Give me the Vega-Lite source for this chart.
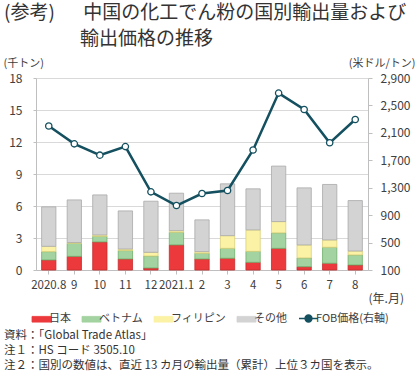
{
  "$schema": "https://vega.github.io/schema/vega-lite/v6.json",
  "autosize": {"type": "pad"},
  "padding": {"left": 3, "top": 4, "right": 0, "bottom": 0},
  "background": "white",
  "config": {
    "font": "Noto Sans CJK JP",
    "view": {"stroke": null},
    "axis": {
      "labelFontSize": 12,
      "labelColor": "#404040",
      "titleFontWeight": "normal",
      "titleColor": "#404040",
      "domainColor": "#bfbfbf",
      "tickColor": "#bfbfbf",
      "gridColor": "#d9d9d9"
    }
  },
  "title": {
    "text": ["(参考)\u2003\u2002中国の化工でん粉の国別輸出量および", "\u200b\u3000\u3000\u3000\u3000輸出価格の推移"],
    "anchor": "start",
    "frame": "group",
    "orient": "top",
    "dx": -32,
    "offset": 8,
    "fontSize": 19,
    "fontWeight": "normal",
    "color": "#333333",
    "lineHeight": 26
  },
  "datasets": {
    "vol": [
      {"month": "2020.8", "country": "日本", "value": 0.94},
      {"month": "2020.8", "country": "ベトナム", "value": 0.78},
      {"month": "2020.8", "country": "フィリピン", "value": 0.50},
      {"month": "2020.8", "country": "その他", "value": 3.70},
      {"month": "9", "country": "日本", "value": 1.28},
      {"month": "9", "country": "ベトナム", "value": 1.22},
      {"month": "9", "country": "フィリピン", "value": 0.07},
      {"month": "9", "country": "その他", "value": 4.00},
      {"month": "10", "country": "日本", "value": 2.63},
      {"month": "10", "country": "ベトナム", "value": 0.53},
      {"month": "10", "country": "フィリピン", "value": 0.13},
      {"month": "10", "country": "その他", "value": 3.75},
      {"month": "11", "country": "日本", "value": 1.03},
      {"month": "11", "country": "ベトナム", "value": 0.79},
      {"month": "11", "country": "フィリピン", "value": 0.15},
      {"month": "11", "country": "その他", "value": 3.57},
      {"month": "12", "country": "日本", "value": 0.19},
      {"month": "12", "country": "ベトナム", "value": 1.12},
      {"month": "12", "country": "フィリピン", "value": 0.35},
      {"month": "12", "country": "その他", "value": 4.79},
      {"month": "2021.1", "country": "日本", "value": 2.35},
      {"month": "2021.1", "country": "ベトナム", "value": 1.19},
      {"month": "2021.1", "country": "フィリピン", "value": 0.15},
      {"month": "2021.1", "country": "その他", "value": 3.51},
      {"month": "2", "country": "日本", "value": 1.03},
      {"month": "2", "country": "ベトナム", "value": 0.54},
      {"month": "2", "country": "フィリピン", "value": 0.15},
      {"month": "2", "country": "その他", "value": 2.98},
      {"month": "3", "country": "日本", "value": 1.10},
      {"month": "3", "country": "ベトナム", "value": 0.93},
      {"month": "3", "country": "フィリピン", "value": 1.19},
      {"month": "3", "country": "その他", "value": 4.86},
      {"month": "4", "country": "日本", "value": 0.72},
      {"month": "4", "country": "ベトナム", "value": 1.03},
      {"month": "4", "country": "フィリピン", "value": 2.01},
      {"month": "4", "country": "その他", "value": 3.85},
      {"month": "5", "country": "日本", "value": 2.03},
      {"month": "5", "country": "ベトナム", "value": 1.45},
      {"month": "5", "country": "フィリピン", "value": 1.06},
      {"month": "5", "country": "その他", "value": 5.20},
      {"month": "6", "country": "日本", "value": 0.31},
      {"month": "6", "country": "ベトナム", "value": 0.82},
      {"month": "6", "country": "フィリピン", "value": 1.22},
      {"month": "6", "country": "その他", "value": 5.35},
      {"month": "7", "country": "日本", "value": 0.63},
      {"month": "7", "country": "ベトナム", "value": 1.50},
      {"month": "7", "country": "フィリピン", "value": 0.69},
      {"month": "7", "country": "その他", "value": 5.20},
      {"month": "8", "country": "日本", "value": 0.47},
      {"month": "8", "country": "ベトナム", "value": 0.94},
      {"month": "8", "country": "フィリピン", "value": 0.37},
      {"month": "8", "country": "その他", "value": 4.73}
    ],
    "price": [
      {"month": "2020.8", "series": "FOB価格(右軸)", "price": 2200},
      {"month": "9", "series": "FOB価格(右軸)", "price": 1940},
      {"month": "10", "series": "FOB価格(右軸)", "price": 1775},
      {"month": "11", "series": "FOB価格(右軸)", "price": 1900},
      {"month": "12", "series": "FOB価格(右軸)", "price": 1240},
      {"month": "2021.1", "series": "FOB価格(右軸)", "price": 1040},
      {"month": "2", "series": "FOB価格(右軸)", "price": 1215},
      {"month": "3", "series": "FOB価格(右軸)", "price": 1260},
      {"month": "4", "series": "FOB価格(右軸)", "price": 1850},
      {"month": "5", "series": "FOB価格(右軸)", "price": 2680},
      {"month": "6", "series": "FOB価格(右軸)", "price": 2440},
      {"month": "7", "series": "FOB価格(右軸)", "price": 1955},
      {"month": "8", "series": "FOB価格(右軸)", "price": 2295}
    ]
  },
  "resolve": {"legend": {"color": "independent"}},
  "vconcat": [
    {
      "width": 332,
      "height": 192,
      "title": {
        "text": ["資料：「Global Trade Atlas」", "注１：HS コード 3505.10", "注２：国別の数値は、直近 13 カ月の輸出量（累計）上位３カ国を表示。"],
        "orient": "bottom",
        "anchor": "start",
        "frame": "group",
        "dx": -32,
        "offset": 5,
        "fontSize": 11.5,
        "fontWeight": "normal",
        "lineHeight": 15,
        "color": "#333333"
      },
      "resolve": {"scale": {"y": "independent"}},
      "layer": [
        {
          "data": {"name": "vol"},
          "mark": {"type": "bar", "strokeWidth": 0.8},
          "encoding": {
            "x": {
              "field": "month",
              "type": "nominal",
              "sort": null,
              "scale": {"paddingInner": 0.44, "paddingOuter": 0.22},
              "axis": {
                "orient": "bottom",
                "labelAngle": 0,
                "labelOverlap": false,
                "labelFontSize": 11.5,
                "labelPadding": 5,
                "tickSize": 4,
                "title": "(年.月)",
                "titleAnchor": "end",
                "titleAlign": "left",
                "titlePadding": 3,
                "titleFontSize": 12
              }
            },
            "y": {
              "field": "value",
              "type": "quantitative",
              "stack": "zero",
              "scale": {"domain": [0, 18]},
              "axis": {
                "orient": "left",
                "values": [0, 3, 6, 9, 12, 15, 18],
                "grid": true,
                "tickSize": 3,
                "labelPadding": 11,
                "title": "(千トン)",
                "titleAngle": 0,
                "titleX": -33,
                "titleY": -15,
                "titleAlign": "left",
                "titleBaseline": "middle",
                "titleFontSize": 11
              }
            },
            "color": {
              "field": "country",
              "type": "nominal",
              "scale": {
                "domain": ["日本", "ベトナム", "フィリピン", "その他", "FOB価格(右軸)"],
                "range": ["#ec3a3c", "#a3d3a0", "#fbf2a6", "#d3d3d3", "#14505f"]
              },
              "legend": {
                "orient": "bottom",
                "offset": 8,
                "direction": "horizontal",
                "title": null,
                "symbolSize": 361,
                "labelFontSize": 11,
                "labelOffset": 2,
                "columnPadding": 9,
                "labelColor": "#404040",
                "encode": {
                  "symbols": {
                    "update": {
                      "shape": {"signal": "datum.value === 'FOB価格(右軸)' ? 'M-1,0H-0.36M0.36,0H1M0.36,0A0.36,0.36,0,1,1,-0.36,0A0.36,0.36,0,1,1,0.36,0' : 'M-1,-0.3H1V0.3H-1Z'"},
                      "fill": {"signal": "datum.value === 'FOB価格(右軸)' ? 'white' : scale('color', datum.value)"},
                      "stroke": {"signal": "datum.value === 'FOB価格(右軸)' ? '#14505f' : scale('color', datum.value)"},
                      "strokeWidth": {"signal": "datum.value === 'FOB価格(右軸)' ? 1.5 : 0.8"},
                      "opacity": {"value": 1}
                    }
                  }
                }
              }
            },
            "stroke": {
              "field": "country",
              "type": "nominal",
              "scale": {
                "domain": ["日本", "ベトナム", "フィリピン", "その他"],
                "range": ["#c42a2c", "#6fae6b", "#d9cf78", "#a9a9a9"]
              },
              "legend": null
            }
          }
        },
        {
          "data": {"name": "price"},
          "encoding": {
            "x": {"field": "month", "type": "nominal", "sort": null},
            "y": {
              "field": "price",
              "type": "quantitative",
              "scale": {"domain": [100, 2900]},
              "axis": {
                "orient": "right",
                "values": [100, 500, 900, 1300, 1700, 2100, 2500, 2900],
                "format": ",d",
                "grid": false,
                "tickSize": 4,
                "labelPadding": 8,
                "title": "(米ドル/トン)",
                "titleAngle": 0,
                "titleX": 47,
                "titleY": -15,
                "titleAlign": "right",
                "titleBaseline": "middle",
                "titleFontSize": 11
              }
            }
          },
          "layer": [
            {
              "mark": {"type": "line", "strokeWidth": 2.5},
              "encoding": {"color": {"field": "series", "type": "nominal"}}
            },
            {
              "mark": {"type": "point", "filled": true, "fill": "white", "stroke": "#14505f", "strokeWidth": 1.3, "size": 40, "opacity": 1}
            }
          ]
        }
      ]
    }
  ]
}
